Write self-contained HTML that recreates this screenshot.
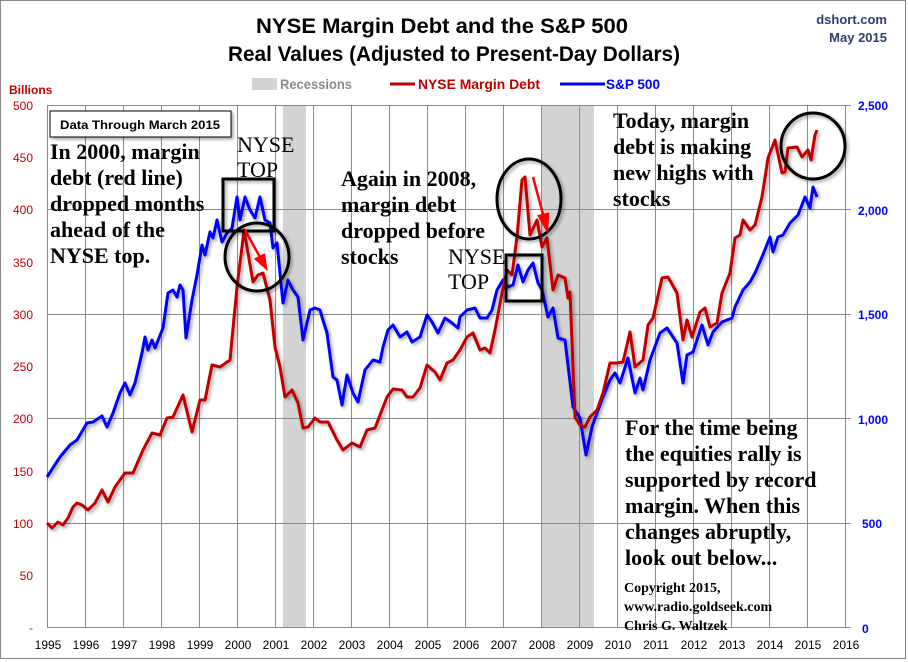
<!DOCTYPE html>
<html><head><meta charset="utf-8"><style>
html,body{margin:0;padding:0;background:#fff}
svg{display:block}
.s{font-family:"Liberation Serif",serif;font-weight:bold;fill:#000}
.n{font-family:"Liberation Sans",sans-serif}
</style></head><body>
<svg width="908" height="662" viewBox="0 0 908 662" xmlns="http://www.w3.org/2000/svg">
<defs>
<filter id="sh" x="-20%" y="-20%" width="150%" height="150%"><feDropShadow dx="2" dy="2" stdDeviation="1.5" flood-color="#000" flood-opacity="0.35"/></filter>
</defs>
<rect x="0.5" y="0.5" width="905" height="658" fill="#fff" stroke="#888"/>
<rect x="283" y="105" width="23" height="522" fill="#d3d3d3"/>
<rect x="541" y="105" width="53" height="522" fill="#d3d3d3"/>
<g stroke="#8c8c8c" stroke-width="1">
<path d="M47.5 105V627M85.5 105V627M123.5 105V627M161.5 105V627M199.5 105V627M237.5 105V627M275.5 105V627M313.5 105V627M351.5 105V627M389.5 105V627M427.5 105V627M465.5 105V627M503.5 105V627M541.5 105V627M579.5 105V627M617.5 105V627M655.5 105V627M693.5 105V627M731.5 105V627M769.5 105V627M807.5 105V627M845.5 105V627"/>
<path d="M47 105.5H851M47 209.5H851M47 314.5H851M47 418.5H851M47 523.5H851M47 627.5H851"/>
</g>
<text x="442" y="33" text-anchor="middle" class="n" font-weight="bold" font-size="21" textLength="372" lengthAdjust="spacingAndGlyphs">NYSE Margin Debt and the S&amp;P 500</text>
<text x="454" y="61" text-anchor="middle" class="n" font-weight="bold" font-size="21" textLength="452" lengthAdjust="spacingAndGlyphs">Real Values (Adjusted to Present-Day Dollars)</text>
<text x="887" y="24" text-anchor="end" class="n" font-weight="bold" font-size="13" fill="#2f3f6f">dshort.com</text>
<text x="887" y="42" text-anchor="end" class="n" font-weight="bold" font-size="13" fill="#2f3f6f">May 2015</text>
<rect x="252" y="78" width="25" height="12" fill="#d3d3d3"/>
<text x="280" y="89" class="n" font-weight="bold" font-size="14" fill="#8a8a8a" textLength="72" lengthAdjust="spacingAndGlyphs">Recessions</text>
<path d="M390 84H415" stroke="#c00000" stroke-width="3"/>
<text x="418" y="89" class="n" font-weight="bold" font-size="14" fill="#c00000" textLength="122" lengthAdjust="spacingAndGlyphs">NYSE Margin Debt</text>
<path d="M560 84H605" stroke="#0000ff" stroke-width="3"/>
<text x="606" y="89" class="n" font-weight="bold" font-size="14" fill="#0000ff" textLength="54" lengthAdjust="spacingAndGlyphs">S&amp;P 500</text>
<text x="9" y="94" class="n" font-weight="bold" font-size="12" fill="#c00000">Billions</text>
<g class="n" font-size="12" fill="#c00000" text-anchor="end">
<text x="33" y="110">500</text><text x="33" y="162">450</text><text x="33" y="214">400</text><text x="33" y="267">350</text><text x="33" y="319">300</text><text x="33" y="371">250</text><text x="33" y="423">200</text><text x="33" y="476">150</text><text x="33" y="528">100</text><text x="33" y="580">50</text><text x="33" y="632">-</text>
</g>
<g class="n" font-size="12" fill="#0000ff" font-weight="bold">
<text x="858" y="110">2,500</text><text x="858" y="215">2,000</text><text x="858" y="319">1,500</text><text x="858" y="424">1,000</text><text x="862" y="528">500</text><text x="862" y="633">0</text>
</g>
<g class="n" font-size="12" fill="#000" text-anchor="middle">
<text x="48" y="649">1995</text><text x="86" y="649">1996</text><text x="124" y="649">1997</text><text x="162" y="649">1998</text><text x="200" y="649">1999</text><text x="238" y="649">2000</text><text x="276" y="649">2001</text><text x="314" y="649">2002</text><text x="352" y="649">2003</text><text x="390" y="649">2004</text><text x="428" y="649">2005</text><text x="466" y="649">2006</text><text x="504" y="649">2007</text><text x="542" y="649">2008</text><text x="580" y="649">2009</text><text x="618" y="649">2010</text><text x="656" y="649">2011</text><text x="694" y="649">2012</text><text x="732" y="649">2013</text><text x="770" y="649">2014</text><text x="808" y="649">2015</text><text x="846" y="649">2016</text>
</g>
<g fill="none" stroke-width="3" stroke-linejoin="round" filter="url(#sh)">
<polyline stroke="#0000ff" points="47,477 60,457 70,445 77,440 87,423 93,422 102,416 107,427 113,413 120,393 125,383 130,395 135,383 142,353 145,337 148,350 152,340 155,348 163,328 168,293 173,290 177,297 180,285 183,290 186,338 192,300 197,275 202,245 205,255 210,232 213,238 217,220 222,242 227,233 232,228 237,197 240,220 245,197 250,210 255,218 260,197 265,220 270,223 273,248 277,243 283,303 288,280 293,290 298,297 303,340 310,310 315,308 320,310 322,317 327,333 333,377 337,380 342,405 347,375 353,393 358,402 365,370 373,360 380,362 383,347 388,330 393,325 400,337 407,332 412,342 420,337 427,315 432,322 438,333 445,318 452,323 458,328 460,317 467,310 475,308 480,318 487,318 492,310 497,290 503,280 508,287 513,285 518,265 523,282 528,270 533,263 538,283 542,290 548,317 553,308 558,338 565,340 573,407 580,418 586,455 592,427 597,413 603,397 610,380 615,373 620,383 628,358 635,393 640,378 643,390 650,360 660,333 667,328 677,343 683,383 687,355 693,352 702,325 708,345 713,332 722,322 732,318 735,307 743,290 750,282 755,273 762,257 770,237 773,252 778,237 783,235 790,223 795,218 798,215 805,197 810,208 813,187 817,197"/>
<polyline stroke="#c00000" points="47,523 52,528 58,522 63,525 68,518 73,507 77,503 82,505 88,510 95,503 102,490 108,502 115,487 125,473 133,473 143,450 152,433 160,435 167,418 173,417 183,395 192,432 200,400 205,400 212,365 220,367 230,360 237,287 242,247 244,230 248,253 253,282 258,275 263,273 270,300 275,347 280,367 285,397 292,390 298,403 303,428 308,427 315,418 320,422 328,422 337,440 343,450 352,443 360,447 367,430 375,428 387,397 393,389 402,390 407,397 413,397 420,388 427,365 435,372 440,380 447,363 453,360 460,350 467,337 473,333 480,350 485,348 490,353 495,330 502,293 507,270 512,275 517,237 522,180 525,177 530,235 537,220 542,247 547,238 553,290 558,275 565,278 568,298 570,292 575,417 580,425 585,427 590,417 597,410 603,393 610,363 617,363 623,362 630,332 635,367 643,360 648,325 653,318 662,278 668,277 677,293 683,340 687,320 692,337 700,312 705,308 710,327 717,323 722,293 730,273 735,238 740,235 743,220 750,230 755,225 762,197 768,158 775,140 782,173 785,172 788,148 797,147 802,157 808,150 811,160 815,135 817,130"/>
</g>
<g fill="none" stroke="#000" stroke-width="3" filter="url(#sh)">
<rect x="223" y="179" width="51" height="52"/>
<ellipse cx="257" cy="257" rx="32" ry="34"/>
<rect x="506" y="255" width="36" height="46"/>
<ellipse cx="529" cy="199" rx="32" ry="40"/>
<ellipse cx="813" cy="146" rx="32" ry="33"/>
</g>
<g stroke="#ff0000" stroke-width="2.5" fill="#ff0000">
<path d="M245 230L261 259"/><path d="M266 268L256 259L264 255Z"/>
<path d="M533 177L544 218"/><path d="M547 230L539 216L548 214Z"/>
</g>
<rect x="50" y="111" width="181" height="26" fill="#fff" stroke="#000" stroke-width="1" filter="url(#sh)"/>
<text x="60" y="129" class="n" font-weight="bold" font-size="12" textLength="160" lengthAdjust="spacingAndGlyphs">Data Through March 2015</text>
<g class="s" font-size="22">
<text x="50" y="159">In 2000, margin</text>
<text x="50" y="185">debt (red line)</text>
<text x="50" y="211">dropped months</text>
<text x="50" y="237">ahead of the</text>
<text x="50" y="263">NYSE top.</text>
<text x="341" y="186">Again in 2008,</text>
<text x="341" y="212">margin debt</text>
<text x="341" y="238">dropped before</text>
<text x="341" y="264">stocks</text>
<text x="613" y="128">Today, margin</text>
<text x="613" y="154">debt is making</text>
<text x="613" y="180">new highs with</text>
<text x="613" y="206">stocks</text>
<text x="625" y="435">For the time being</text>
<text x="625" y="461">the equities rally is</text>
<text x="625" y="487">supported by record</text>
<text x="625" y="513">margin. When this</text>
<text x="625" y="539">changes abruptly,</text>
<text x="625" y="565">look out below...</text>
</g>
<g font-family="Liberation Serif,serif" font-size="22" fill="#000">
<text x="237" y="152">NYSE</text><text x="237" y="177">TOP</text>
<text x="448" y="264">NYSE</text><text x="448" y="289">TOP</text>
</g>
<g class="s" font-size="14">
<text x="624" y="592">Copyright 2015,</text>
<text x="624" y="611">www.radio.goldseek.com</text>
<text x="624" y="630">Chris G. Waltzek</text>
</g>
</svg>
</body></html>
